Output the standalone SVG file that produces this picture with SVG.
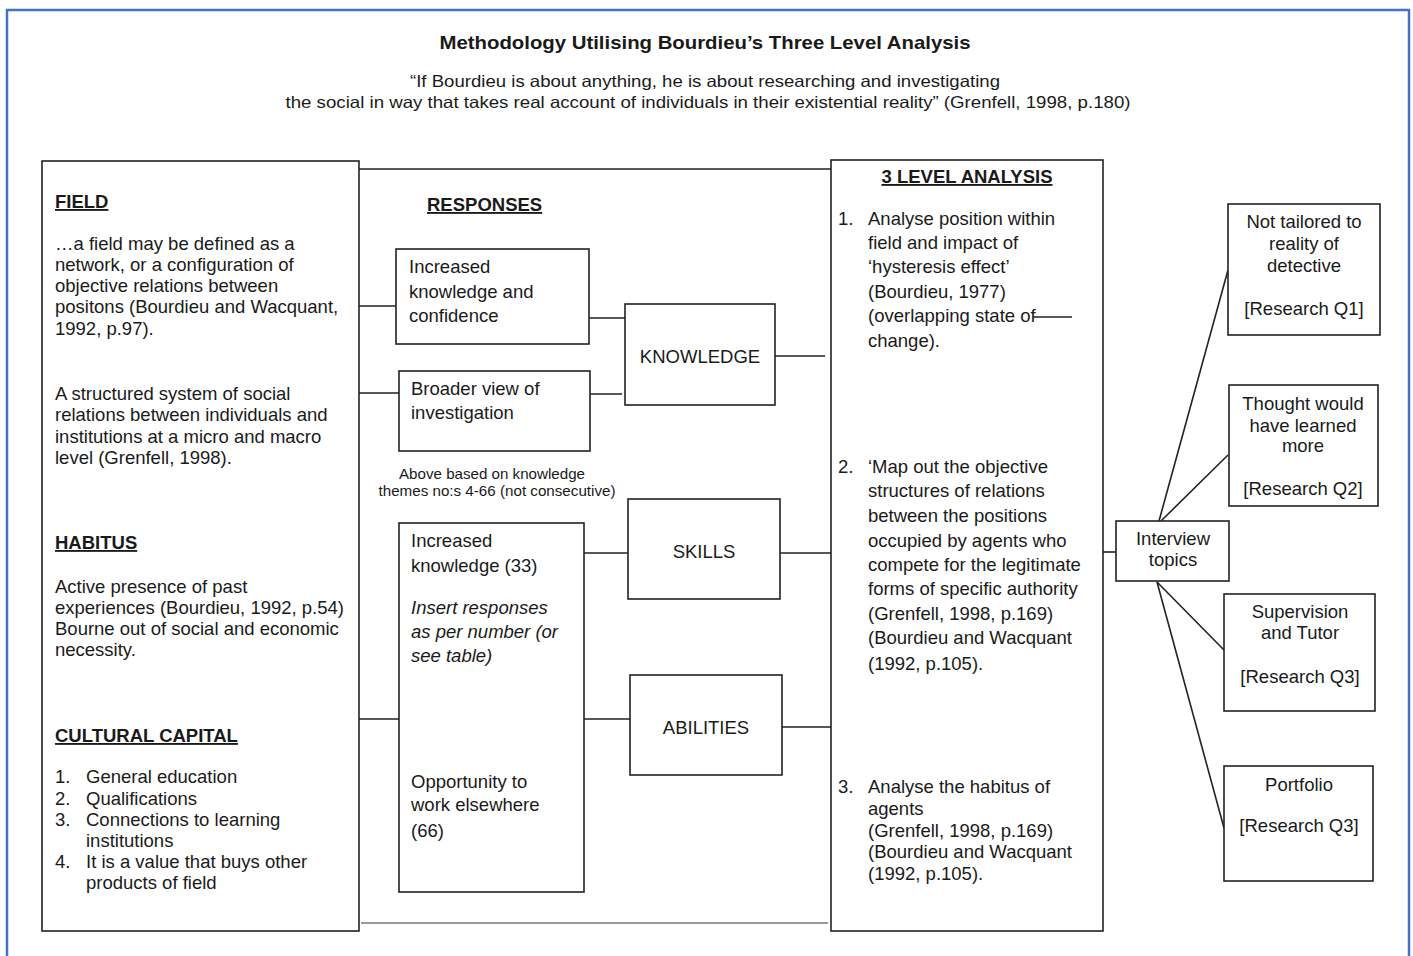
<svg xmlns="http://www.w3.org/2000/svg" width="1413" height="956" viewBox="0 0 1413 956">
<style>
.bg{fill:#fff}
.b{fill:#fff;stroke:#222;stroke-width:1.6}
.c{fill:none;stroke:#222;stroke-width:1.6}
.t{font-family:"Liberation Sans",Arial,sans-serif;font-size:18.5px;fill:#1a1a1a}
.h{font-family:"Liberation Sans",Arial,sans-serif;font-size:18.5px;font-weight:bold;fill:#1a1a1a;text-decoration:underline}
.m{text-anchor:middle}
.i{font-style:italic}
.n{font-family:"Liberation Sans",Arial,sans-serif;font-size:14.5px;fill:#1a1a1a;text-anchor:middle}
</style>
<rect class="bg" x="0" y="0" width="1413" height="956"/>
<g id="frame">
<path d="M7,956 V10 H1409 V956" fill="none" stroke="#4472C4" stroke-width="2.5"/>
</g>
<g id="title">
<text x="705" y="49" font-family="'Liberation Sans',Arial,sans-serif" font-size="19" font-weight="bold" fill="#1a1a1a" text-anchor="middle" textLength="531" lengthAdjust="spacingAndGlyphs">Methodology Utilising Bourdieu’s Three Level Analysis</text>
<text x="705" y="87" font-family="'Liberation Sans',Arial,sans-serif" font-size="16.5" fill="#1a1a1a" text-anchor="middle" textLength="590" lengthAdjust="spacingAndGlyphs">“If Bourdieu is about anything, he is about researching and investigating</text>
<text x="708" y="108" font-family="'Liberation Sans',Arial,sans-serif" font-size="16.5" fill="#1a1a1a" text-anchor="middle" textLength="845" lengthAdjust="spacingAndGlyphs">the social in way that takes real account of individuals in their existential reality” (Grenfell, 1998, p.180)</text>
</g>
<g id="connectors">
<path class="c" d="M359,169 H831"/>
<path d="M361,923 H828" fill="none" stroke="#999" stroke-width="2.2"/>
<path class="c" d="M359,306 H396"/>
<path class="c" d="M359,393 H399"/>
<path class="c" d="M589,318 H625"/>
<path class="c" d="M588,394 H622"/>
<path class="c" d="M775,356 H825"/>
<path class="c" d="M359,719 H401"/>
<path class="c" d="M584,553 H628"/>
<path class="c" d="M780,553 H831"/>
<path class="c" d="M584,719 H636"/>
<path class="c" d="M782,727 H831"/>
<path class="c" d="M1103,552 H1116"/>
<path class="c" d="M1159,521 L1228,270"/>
<path class="c" d="M1161,521 L1228,455"/>
<path class="c" d="M1157,582 L1224,650"/>
<path class="c" d="M1157,582 L1224,828"/>
</g>
<g id="field-box">
<rect class="b" x="42" y="161" width="317" height="770"/>
<text class="h" x="55" y="208">FIELD</text>
<text class="t" x="55" y="250">…a field may be defined as a</text>
<text class="t" x="55" y="271">network, or a configuration of</text>
<text class="t" x="55" y="292">objective relations between</text>
<text class="t" x="55" y="313">positons (Bourdieu and Wacquant,</text>
<text class="t" x="55" y="335">1992, p.97).</text>
<text class="t" x="55" y="400">A structured system of social</text>
<text class="t" x="55" y="421">relations between individuals and</text>
<text class="t" x="55" y="443">institutions at a micro and macro</text>
<text class="t" x="55" y="464">level (Grenfell, 1998).</text>
<text class="h" x="55" y="549">HABITUS</text>
<text class="t" x="55" y="593">Active presence of past</text>
<text class="t" x="55" y="614">experiences (Bourdieu, 1992, p.54)</text>
<text class="t" x="55" y="635">Bourne out of social and economic</text>
<text class="t" x="55" y="656">necessity.</text>
<text class="h" x="55" y="742">CULTURAL CAPITAL</text>
<text class="t" x="55" y="783">1.</text><text class="t" x="86" y="783">General education</text>
<text class="t" x="55" y="805">2.</text><text class="t" x="86" y="805">Qualifications</text>
<text class="t" x="55" y="826">3.</text><text class="t" x="86" y="826">Connections to learning</text>
<text class="t" x="86" y="847">institutions</text>
<text class="t" x="55" y="868">4.</text><text class="t" x="86" y="868">It is a value that buys other</text>
<text class="t" x="86" y="889">products of field</text>
</g>
<g id="responses">
<text class="h" x="427" y="211">RESPONSES</text>
<text class="n" x="492" y="479" textLength="186" lengthAdjust="spacingAndGlyphs">Above based on knowledge</text>
<text class="n" x="497" y="496" textLength="237" lengthAdjust="spacingAndGlyphs">themes no:s 4-66 (not consecutive)</text>
</g>
<g id="resp-knowledge-confidence">
<rect class="b" x="396" y="249" width="193" height="95"/>
<text class="t" x="409" y="273">Increased</text>
<text class="t" x="409" y="298">knowledge and</text>
<text class="t" x="409" y="322">confidence</text>
</g>
<g id="resp-broader-view">
<rect class="b" x="399" y="371" width="191" height="80"/>
<text class="t" x="411" y="395">Broader view of</text>
<text class="t" x="411" y="419">investigation</text>
</g>
<g id="knowledge">
<rect class="b" x="625" y="304" width="150" height="101"/>
<text class="t m" x="700" y="363">KNOWLEDGE</text>
</g>
<g id="resp-skills-abilities">
<rect class="b" x="399" y="523" width="185" height="369"/>
<text class="t" x="411" y="547">Increased</text>
<text class="t" x="411" y="572">knowledge (33)</text>
<text class="t i" x="411" y="614">Insert responses</text>
<text class="t i" x="411" y="638">as per number (or</text>
<text class="t i" x="411" y="662">see table)</text>
<text class="t" x="411" y="788">Opportunity to</text>
<text class="t" x="411" y="811">work elsewhere</text>
<text class="t" x="411" y="837">(66)</text>
</g>
<g id="skills">
<rect class="b" x="628" y="499" width="152" height="100"/>
<text class="t m" x="704" y="558">SKILLS</text>
</g>
<g id="abilities">
<rect class="b" x="630" y="675" width="152" height="100"/>
<text class="t m" x="706" y="734">ABILITIES</text>
</g>
<g id="analysis">
<rect class="b" x="831" y="160" width="272" height="771"/>
<text class="h m" x="967" y="183">3 LEVEL ANALYSIS</text>
<text class="t" x="838" y="225">1.</text>
<text class="t" x="868" y="225">Analyse position within</text>
<text class="t" x="868" y="249">field and impact of</text>
<text class="t" x="868" y="273">‘hysteresis effect’</text>
<text class="t" x="868" y="298">(Bourdieu, 1977)</text>
<text class="t" x="868" y="322">(overlapping state of</text>
<path class="c" d="M1033,317 H1072"/>
<text class="t" x="868" y="347">change).</text>
<text class="t" x="838" y="473">2.</text>
<text class="t" x="868" y="473">‘Map out the objective</text>
<text class="t" x="868" y="497">structures of relations</text>
<text class="t" x="868" y="522">between the positions</text>
<text class="t" x="868" y="547">occupied by agents who</text>
<text class="t" x="868" y="571">compete for the legitimate</text>
<text class="t" x="868" y="595">forms of specific authority</text>
<text class="t" x="868" y="620">(Grenfell, 1998, p.169)</text>
<text class="t" x="868" y="644">(Bourdieu and Wacquant</text>
<text class="t" x="868" y="670">(1992, p.105).</text>
<text class="t" x="838" y="793">3.</text>
<text class="t" x="868" y="793">Analyse the habitus of</text>
<text class="t" x="868" y="815">agents</text>
<text class="t" x="868" y="837">(Grenfell, 1998, p.169)</text>
<text class="t" x="868" y="858">(Bourdieu and Wacquant</text>
<text class="t" x="868" y="880">(1992, p.105).</text>
</g>
<g id="interview-topics">
<rect class="b" x="1116" y="521" width="113" height="60"/>
<text class="t m" x="1173" y="545">Interview</text>
<text class="t m" x="1173" y="566">topics</text>
</g>
<g id="q1">
<rect class="b" x="1228" y="204" width="152" height="131"/>
<text class="t m" x="1304" y="228">Not tailored to</text>
<text class="t m" x="1304" y="250">reality of</text>
<text class="t m" x="1304" y="272">detective</text>
<text class="t m" x="1304" y="315">[Research Q1]</text>
</g>
<g id="q2">
<rect class="b" x="1229" y="385" width="149" height="121"/>
<text class="t m" x="1303" y="410">Thought would</text>
<text class="t m" x="1303" y="432">have learned</text>
<text class="t m" x="1303" y="452">more</text>
<text class="t m" x="1303" y="495">[Research Q2]</text>
</g>
<g id="q3-supervision">
<rect class="b" x="1224" y="594" width="151" height="117"/>
<text class="t m" x="1300" y="618">Supervision</text>
<text class="t m" x="1300" y="639">and Tutor</text>
<text class="t m" x="1300" y="683">[Research Q3]</text>
</g>
<g id="q3-portfolio">
<rect class="b" x="1224" y="766" width="149" height="115"/>
<text class="t m" x="1299" y="791">Portfolio</text>
<text class="t m" x="1299" y="832">[Research Q3]</text>
</g>
</svg>
